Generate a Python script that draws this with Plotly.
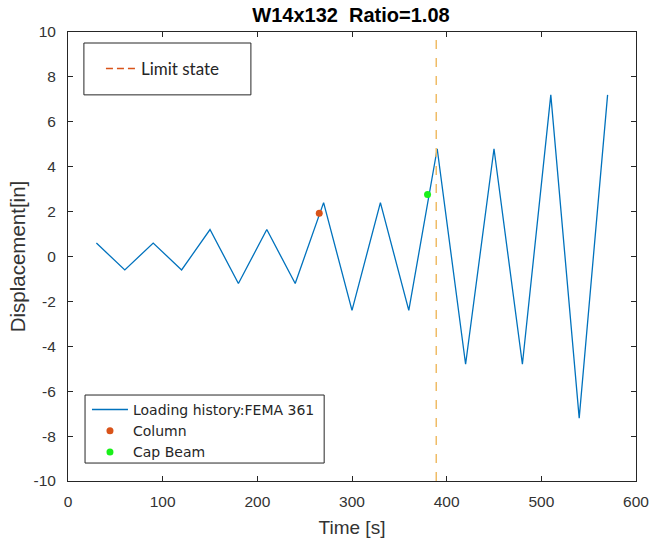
import plotly.graph_objects as go

time_s = [30, 60, 90, 120, 150, 180, 210, 240, 270, 300, 330, 360, 390, 420, 450, 480, 510, 540, 570]
displacement_in = [0.6, -0.6, 0.6, -0.6, 1.2, -1.2, 1.2, -1.2, 2.4, -2.4, 2.4, -2.4, 4.8, -4.8, 4.8, -4.8, 7.2, -7.2, 7.2]
column_pt = [265.4, 1.93]
capbeam_pt = [379.8, 2.76]
limit_state_x = 389
x_ticks = [0, 100, 200, 300, 400, 500, 600]
y_ticks = [-10, -8, -6, -4, -2, 0, 2, 4, 6, 8, 10]
y_tick_text = [str(v) for v in y_ticks]

fig = go.Figure()
fig.add_trace(go.Scatter(x=time_s, y=displacement_in, mode="lines",
                         line=dict(color="#0072BD", width=1.3),
                         name="Loading history:FEMA 361", legend="legend2"))
fig.add_trace(go.Scatter(x=[column_pt[0]], y=[column_pt[1]], mode="markers",
                         marker=dict(color="#D95319", size=7),
                         name="Column", legend="legend2"))
fig.add_trace(go.Scatter(x=[capbeam_pt[0]], y=[capbeam_pt[1]], mode="markers",
                         marker=dict(color="#19F019", size=7),
                         name="Cap Beam", legend="legend2"))
# legend entry for limit state
fig.add_trace(go.Scatter(x=[None], y=[None], mode="lines",
                         line=dict(color="#D95319", width=1.5, dash="7px,4px"),
                         name="Limit state", legend="legend"))
fig.add_shape(type="line", x0=limit_state_x, x1=limit_state_x, xref="x",
              y0=0, y1=1, yref="paper",
              line=dict(color="#EFBC66", width=1.5, dash="dash"))
# legend boxes
fig.add_shape(type="rect", xref="paper", yref="paper", x0=0.028, x1=0.322, y0=0.860, y1=0.9755,
              line=dict(color="#262626", width=1), fillcolor="white", layer="below")
fig.add_shape(type="rect", xref="paper", yref="paper", x0=0.030, x1=0.451, y0=0.040, y1=0.1915,
              line=dict(color="#262626", width=1), fillcolor="white", layer="above")

fig.update_layout(
    width=650, height=542,
    paper_bgcolor="white", plot_bgcolor="white",
    margin=dict(l=68, r=14, t=32, b=61, autoexpand=False),
    font=dict(family="Liberation Sans, Arial, sans-serif", color="#262626"),
    title=dict(text="<b>W14x132  Ratio=1.08</b>", x=351 / 650, xanchor="center",
               y=1 - 15 / 542, yanchor="middle", font=dict(size=20, color="#000000")),
    xaxis=dict(range=[0, 600], tickvals=x_ticks, ticks="inside", ticklen=5,
               showgrid=False, zeroline=False, showline=True, linecolor="#262626",
               linewidth=1, mirror="ticks", tickcolor="#262626", automargin=False,
               ticklabelstandoff=6,
               tickfont=dict(size=15.5, color="#333333"),
               title=dict(text="Time [s]", font=dict(size=19, color="#333333"), standoff=12)),
    yaxis=dict(range=[-10, 10], tickvals=y_ticks, ticktext=y_tick_text, ticks="inside", ticklen=5,
               showgrid=False, zeroline=False, showline=True, linecolor="#262626",
               linewidth=1, mirror="ticks", tickcolor="#262626", automargin=False,
               ticklabelstandoff=8,
               tickfont=dict(size=15.5, color="#333333"),
               title=dict(text="Displacement[in]", font=dict(size=20.5, color="#333333"), standoff=2)),
    legend=dict(x=0.058, y=0.958, xanchor="left", yanchor="top",
                bgcolor="rgba(0,0,0,0)", borderwidth=0,
                font=dict(size=17, color="#262626", family="Lato, Open Sans, sans-serif"),
                itemwidth=30, tracegroupgap=0),
    legend2=dict(x=0.0334, y=0.194, xanchor="left", yanchor="top",
                 bgcolor="rgba(0,0,0,0)", borderwidth=0,
                 font=dict(size=14, color="#262626", family="DejaVu Sans, sans-serif"),
                 itemwidth=36, tracegroupgap=0),
    showlegend=True,
)

fig.write_html("out.html", config={"displayModeBar": False},
               post_script="document.body.style.margin='0';document.body.style.overflow='hidden';")
